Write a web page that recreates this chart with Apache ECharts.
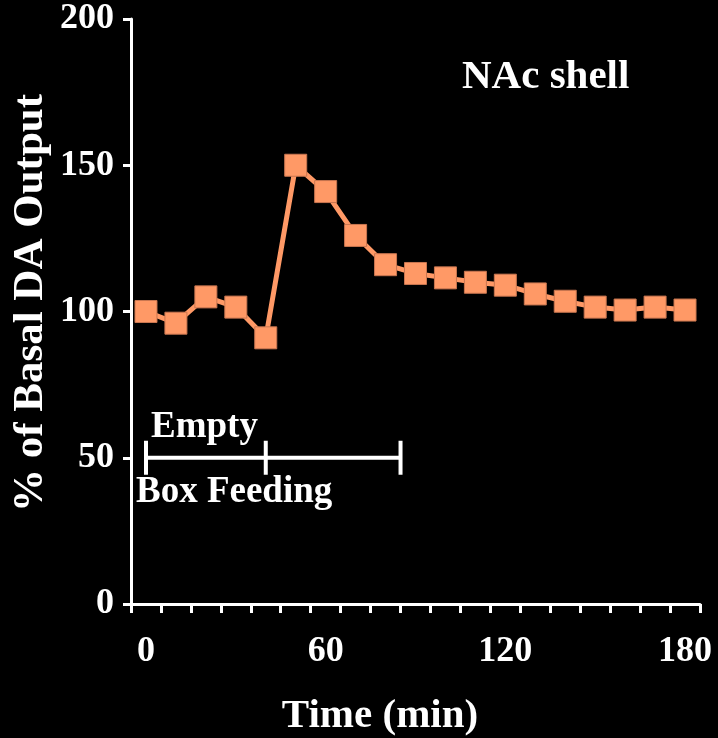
<!DOCTYPE html>
<html>
<head>
<meta charset="utf-8">
<script src="https://cdn.jsdelivr.net/npm/echarts@6/dist/echarts.min.js"></script>
<style>
  html, body { margin: 0; padding: 0; background: #000; }
  #chart { width: 718px; height: 738px; }
</style>
</head>
<body>
<div id="chart"></div>
<script>
// ---- data ----
const times = [0, 10, 20, 30, 40, 50, 60, 70, 80, 90, 100, 110, 120, 130, 140, 150, 160, 170, 180];
const daOutput = [100, 96, 105, 101.5, 91, 150, 141, 126, 116, 113, 111.5, 110, 109, 106, 103.5, 101.5, 100.5, 101.5, 100.5];
const xTickValues = [-5, 5, 15, 25, 35, 45, 55, 65, 75, 85, 95, 105, 115, 125, 135, 145, 155, 165, 175, 185];
const xLabelValues = [0, 60, 120, 180];
const yTickValues = [0, 50, 100, 150, 200];
const bracketTimes = [0, 40, 85];
const bracketLevel = 50;

const FONT = 'Liberation Serif';
const ORANGE = '#FF9966';

const chart = echarts.init(document.getElementById('chart'), null, { renderer: 'canvas' });

const option = {
  backgroundColor: '#000',
  animation: false,
  grid: { left: 131, right: 18, top: 19, bottom: 134 },
  xAxis: {
    type: 'value',
    min: -5,
    max: 185,
    axisLine: { show: true, onZero: false, lineStyle: { color: '#fff', width: 3 } },
    axisTick: { show: true, inside: false, length: 9, customValues: xTickValues, lineStyle: { color: '#fff', width: 3 } },
    axisLabel: {
      customValues: xLabelValues,
      color: '#fff', fontFamily: FONT, fontWeight: 'bold', fontSize: 36, margin: 30
    },
    splitLine: { show: false }
  },
  yAxis: {
    type: 'value',
    min: 0,
    max: 200,
    axisLine: { show: true, onZero: false, lineStyle: { color: '#fff', width: 3 } },
    axisTick: { show: true, inside: false, length: 8, customValues: yTickValues, lineStyle: { color: '#fff', width: 3 } },
    axisLabel: {
      customValues: yTickValues,
      color: '#fff', fontFamily: FONT, fontWeight: 'bold', fontSize: 36, margin: 17,
      padding: [8, 0, 0, 0]
    },
    splitLine: { show: false }
  },
  series: [
    {
      type: 'custom',
      z: 1,
      data: bracketTimes.map(t => [t, bracketLevel]),
      renderItem: function (params, api) {
        const p = api.coord([api.value(0), api.value(1)]);
        const children = [{
          type: 'line',
          shape: { x1: p[0], y1: p[1] - 17, x2: p[0], y2: p[1] + 17 },
          style: { stroke: '#fff', lineWidth: 4 }
        }];
        if (params.dataIndex === 0) {
          const end = api.coord([bracketTimes[bracketTimes.length - 1], bracketLevel]);
          children.push({
            type: 'line',
            shape: { x1: p[0], y1: p[1], x2: end[0], y2: end[1] },
            style: { stroke: '#fff', lineWidth: 4 }
          });
        }
        return { type: 'group', children: children };
      }
    },
    {
      type: 'line',
      z: 3,
      data: times.map((t, i) => [t, daOutput[i]]),
      symbol: 'rect',
      symbolSize: 22,
      lineStyle: { color: ORANGE, width: 5 },
      itemStyle: { color: ORANGE, borderColor: '#c97650', borderWidth: 1 }
    }
  ],
  graphic: [
    { type: 'text', x: 462, y: 77, style: { text: 'NAc shell', fill: '#fff', font: 'bold 41px "Liberation Serif"', align: 'left', verticalAlign: 'middle' } },
    { type: 'text', x: 151, y: 427, style: { text: 'Empty', fill: '#fff', font: 'bold 37px "Liberation Serif"', align: 'left', verticalAlign: 'middle' } },
    { type: 'text', x: 136, y: 492, style: { text: 'Box Feeding', fill: '#fff', font: 'bold 37px "Liberation Serif"', align: 'left', verticalAlign: 'middle' } },
    { type: 'text', x: 380, y: 716, style: { text: 'Time (min)', fill: '#fff', font: 'bold 41px "Liberation Serif"', align: 'center', verticalAlign: 'middle' } },
    { type: 'text', x: 31, y: 303, rotation: Math.PI / 2, style: { text: '% of Basal DA Output', fill: '#fff', font: 'bold 43px "Liberation Serif"', align: 'center', verticalAlign: 'middle' } }
  ]
};

chart.setOption(option);
</script>
</body>
</html>
